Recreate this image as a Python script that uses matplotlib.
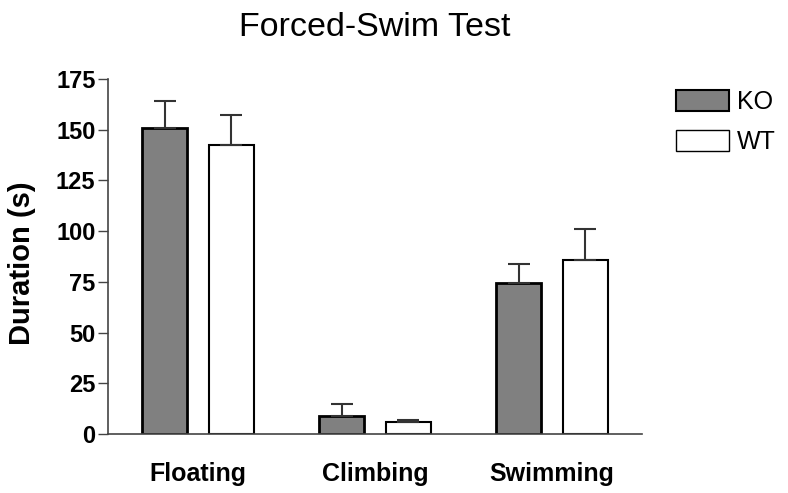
import matplotlib
matplotlib.use("Agg")
import matplotlib.pyplot as plt
from matplotlib.patches import Patch
import numpy as np

plt.rcParams['font.family'] = ['Liberation Sans', 'DejaVu Sans']

categories = ["Floating", "Climbing", "Swimming"]
ko_mean = [151, 9, 74.5]
ko_sem = [13, 6, 9.5]
wt_mean = [142.5, 5.7, 86]
wt_sem = [14.5, 1.2, 15]
y_ticks = [0, 25, 50, 75, 100, 125, 150, 175]

fig = plt.figure(figsize=(7.88, 4.93), dpi=100)
ax = fig.add_axes([0.137, 0.1197, 0.678, 0.7201])

x = np.arange(len(categories))
offset = 0.188
width = 0.254

err_kw = dict(ecolor="#333333", elinewidth=1.5, capsize=8, capthick=1.5)
ax.bar(x - offset, ko_mean, width, color="#808080", edgecolor="black",
       linewidth=2, yerr=[np.zeros(3), ko_sem], error_kw=err_kw, zorder=2)
ax.bar(x + offset, wt_mean, width, color="white", edgecolor="black",
       linewidth=1.5, yerr=[np.zeros(3), wt_sem], error_kw=err_kw, zorder=2)

ax.set_xlim(-0.51, 2.51)
ax.set_ylim(0, 175)
ax.set_yticks(y_ticks)
ax.set_xticks(x)
ax.set_xticklabels(categories, fontsize=18, fontweight="bold")
ax.tick_params(axis="x", length=0, pad=20)
ax.tick_params(axis="y", length=7, width=1, color="#444444", labelsize=17, pad=2)
for lbl in ax.get_yticklabels():
    lbl.set_fontweight("bold")

for s in ("top", "right"):
    ax.spines[s].set_visible(False)
for s in ("left", "bottom"):
    ax.spines[s].set_color("#444444")
    ax.spines[s].set_linewidth(1.2)

ax.set_ylabel("Duration (s)", fontsize=21, fontweight="bold")
ax.yaxis.set_label_coords(-0.135, 0.48)
fig.text(0.476, 0.945, "Forced-Swim Test", ha="center", va="center", fontsize=24.5)

handles = [Patch(facecolor="#808080", edgecolor="black", linewidth=1.5, label="KO"),
           Patch(facecolor="white", edgecolor="black", linewidth=1.0, label="WT")]
fig.legend(handles=handles, loc="upper left", bbox_to_anchor=(0.858, 0.817),
           frameon=False, fontsize=18, handlelength=2.1, handleheight=0.9,
           handletextpad=0.35, labelspacing=0.65, borderaxespad=0, borderpad=0)

fig.savefig("out.png", dpi=100)
